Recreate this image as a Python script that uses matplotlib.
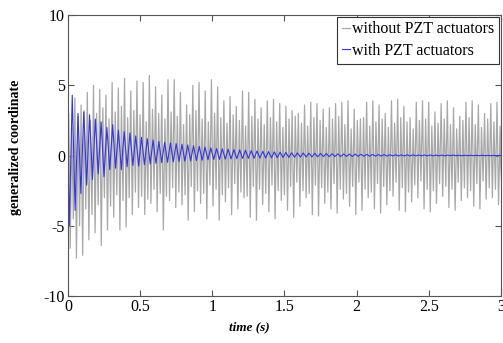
import numpy as np
import matplotlib.pyplot as plt

# peak / trough values read per oscillation cycle
gray_period = 0.043  # s, one cycle of the uncontrolled response
gray_max = [3.0, 4.1, 3.6, 4.5, 5.0, 4.7, 4.3, 5.2, 4.8, 5.5,
            4.6, 5.3, 5.2, 5.7, 4.9, 4.3, 5.4, 5.4, 4.5, 3.6,
            5.0, 5.2, 4.6, 5.4, 4.9, 3.9, 4.2, 3.5, 4.6, 4.5,
            4.0, 3.4, 3.9, 4.0, 3.7, 3.5, 3.2, 3.0, 3.6, 3.8,
            3.7, 3.3, 3.4, 3.7, 3.8, 3.9, 3.3, 2.6, 3.8, 3.9,
            3.6, 3.0, 3.9, 4.0, 3.5, 2.7, 3.8, 3.9, 3.8, 3.1,
            3.7, 3.9, 3.4, 2.8, 3.8, 3.9, 3.6, 3.0, 3.7, 3.8]
gray_min = [-6.6, -7.3, -7.1, -6.0, -5.5, -6.4, -5.3, -4.4, -5.3, -5.1,
            -4.2, -3.7, -4.2, -3.4, -4.0, -5.3, -3.2, -3.7, -3.5, -4.6,
            -4.0, -3.4, -4.5, -3.6, -4.6, -3.3, -4.2, -3.8, -3.0, -4.4,
            -4.6, -3.5, -4.0, -4.5, -3.2, -3.9, -4.4, -3.6, -3.0, -4.2,
            -4.3, -3.4, -3.8, -4.1, -3.1, -3.6, -4.2, -3.9, -3.0, -3.8,
            -4.1, -3.5, -2.9, -3.9, -4.0, -3.3, -3.0, -3.8, -4.0, -3.4,
            -2.9, -3.7, -3.9, -3.2, -3.0, -3.6, -3.8, -3.1, -3.0, -3.5]
# shorter inner strokes between the tall ones
gray_inner_max = [2.0, 2.8, 3.2, 2.5, 3.0, 3.4, 2.6, 3.1, 3.5, 2.7,
                  3.2, 2.9, 2.4, 3.3, 3.0, 2.6, 3.1, 2.8, 2.2, 2.9,
                  3.2, 2.6, 2.4, 3.0, 2.7, 2.3, 2.9, 2.5, 2.1, 2.8,
                  2.6, 2.2, 2.7, 2.4, 2.0, 2.6, 2.8, 2.3, 2.1, 2.7,
                  2.5, 2.0, 2.6, 2.8, 2.2, 1.9, 2.5, 2.7, 2.1, 2.4,
                  2.6, 2.0, 2.3, 2.7, 2.4, 1.9, 2.5, 2.6, 2.1, 2.3,
                  2.6, 2.2, 1.9, 2.5, 2.7, 2.2, 2.0, 2.6, 2.4, 2.1]
gray_inner_min = [-4.5, -5.0, -3.8, -4.2, -3.5, -3.0, -3.6, -2.8, -3.2, -3.0,
                  -2.6, -2.9, -3.1, -2.4, -2.7, -2.9, -2.3, -2.6, -2.8, -2.2,
                  -2.5, -2.7, -2.1, -2.4, -2.8, -2.3, -2.0, -2.6, -2.9, -2.2,
                  -2.4, -2.7, -2.1, -2.5, -2.8, -2.2, -1.9, -2.5, -2.7, -2.1,
                  -2.3, -2.6, -2.0, -2.4, -2.7, -2.2, -1.9, -2.4, -2.6, -2.0,
                  -2.2, -2.5, -1.9, -2.3, -2.6, -2.1, -1.8, -2.4, -2.5, -2.0,
                  -2.2, -2.4, -1.9, -2.3, -2.5, -2.0, -1.8, -2.3, -2.4, -2.0]

blue_period = 0.04  # s, controlled response
blue_min = [-5.0, -3.9, -2.7, -2.1, -1.7, -1.3, -1.5, -1.0, -0.9, -1.0,
            -0.8, -0.7, -0.75, -0.65, -0.6, -0.55, -0.5, -0.48, -0.45, -0.42,
            -0.4, -0.38, -0.35, -0.33, -0.3, -0.28, -0.27, -0.25, -0.24, -0.22,
            -0.21, -0.2, -0.19, -0.18, -0.17, -0.16, -0.15, -0.14, -0.13, -0.12,
            -0.11, -0.1, -0.1, -0.09, -0.08, -0.08, -0.07, -0.07, -0.06, -0.06,
            -0.05, -0.05, -0.05, -0.04, -0.04, -0.04, -0.03, -0.03, -0.03, -0.03,
            -0.02, -0.02, -0.02, -0.02, -0.02, -0.02, -0.01, -0.01, -0.01, -0.01,
            -0.01, -0.01, -0.01, -0.01, -0.01]
blue_max = [4.3, 3.0, 3.1, 2.9, 2.6, 2.4, 2.0, 2.2, 1.8, 1.7,
            1.6, 1.4, 1.3, 1.2, 1.1, 1.0, 0.95, 0.9, 0.85, 0.8,
            0.75, 0.7, 0.65, 0.6, 0.55, 0.5, 0.48, 0.45, 0.42, 0.4,
            0.38, 0.35, 0.33, 0.3, 0.28, 0.26, 0.24, 0.22, 0.2, 0.19,
            0.18, 0.17, 0.16, 0.15, 0.14, 0.13, 0.12, 0.11, 0.1, 0.1,
            0.09, 0.08, 0.08, 0.07, 0.07, 0.06, 0.06, 0.05, 0.05, 0.05,
            0.04, 0.04, 0.04, 0.03, 0.03, 0.03, 0.03, 0.02, 0.02, 0.02,
            0.02, 0.02, 0.01, 0.01, 0.01]


def zigzag(series, period):
    # spread the extrema of each cycle evenly over that cycle
    m = len(series)
    n = len(series[0])
    k = np.arange(n)[:, None]
    frac = (np.arange(m)[None, :] + 0.5) / m
    t = ((k + frac) * period).ravel()
    v = np.column_stack(series).ravel()
    return np.r_[0.0, t, 3.0], np.r_[0.0, v, 0.0]


plt.rcParams['font.family'] = ['Liberation Serif', 'DejaVu Serif']
plt.rcParams['axes.unicode_minus'] = False

fig = plt.figure(figsize=(5.03, 3.43), dpi=100)
ax = fig.add_axes([0.135, 0.137, 0.861, 0.819])

tg, yg = zigzag([gray_max, gray_min, gray_inner_max, gray_inner_min], gray_period)
tb, yb = zigzag([blue_min, blue_max], blue_period)
ax.plot(tg, yg, color='#a8a8a8', lw=0.9, label='without PZT actuators')
ax.plot(tb, yb, color='#3535dd', lw=0.8, label='with PZT actuators')

ax.set_xlim(0, 3)
ax.set_ylim(-10, 10)
ax.set_xticks([0, 0.5, 1, 1.5, 2, 2.5, 3])
ax.set_xticklabels(['0', '0.5', '1', '1.5', '2', '2.5', '3'])
ax.set_yticks([-10, -5, 0, 5, 10])
ax.tick_params(direction='in', top=True, right=True, labelsize=11.5, length=4,
               color='#555555', pad=2)
for s in ax.spines.values():
    s.set_color('#555555')

ax.set_xlabel('time (s)', fontsize=9.5, fontweight='bold', style='italic')
ax.xaxis.set_label_coords(0.42, -0.09)
ax.set_ylabel('generalized coordinate', fontsize=10, fontweight='bold')
ax.yaxis.set_label_coords(-0.105, 0.53)

leg = ax.legend(loc='upper right', fontsize=11.5, handlelength=0.5, handletextpad=0.15,
                borderaxespad=0.1, borderpad=0.3, labelspacing=0.35, fancybox=False,
                framealpha=1)
leg.get_frame().set_edgecolor('#333333')
leg.get_frame().set_linewidth(0.8)

fig.savefig('out.png', dpi=100)
